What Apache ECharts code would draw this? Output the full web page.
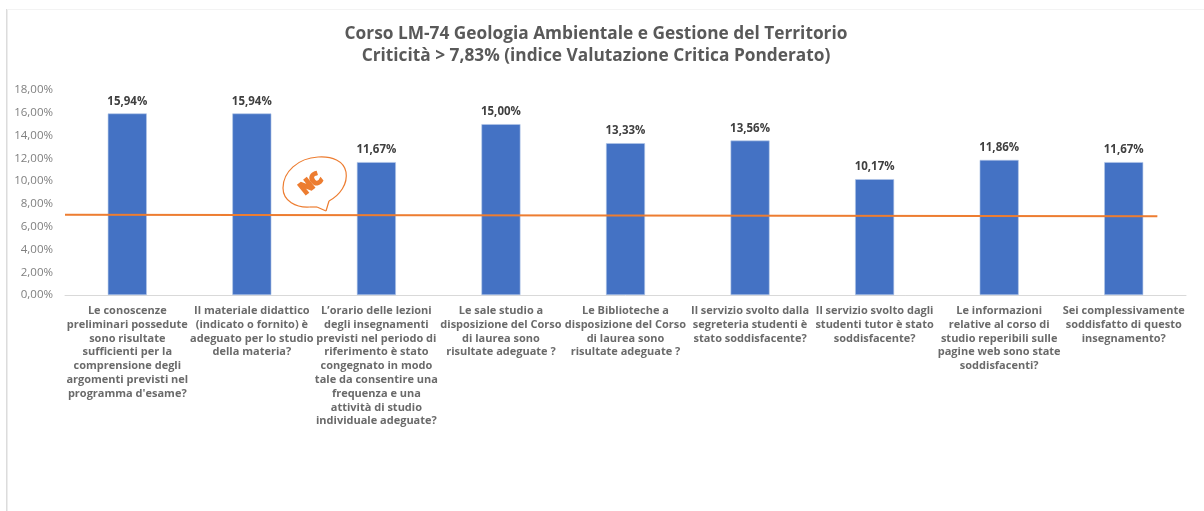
<!DOCTYPE html>
<html>
<head>
<meta charset="utf-8">
<style>html,body{margin:0;padding:0;background:#fff}#c{width:1204px;height:511px}</style>
<script src="https://cdn.jsdelivr.net/npm/echarts@6/dist/echarts.min.js"></script>
</head>
<body>
<div id="c"></div>
<script>
const categories = [
"Le conoscenze\npreliminari possedute\nsono risultate\nsufficienti per la\ncomprensione degli\nargomenti previsti nel\nprogramma d'esame?",
"Il materiale didattico\n(indicato o fornito) è\nadeguato per lo studio\ndella materia?",
"L’orario delle lezioni\ndegli insegnamenti\nprevisti nel periodo di\nriferimento è stato\ncongegnato in modo\ntale da consentire una\nfrequenza e una\nattività di studio\nindividuale adeguate?",
"Le sale studio a\ndisposizione del Corso\ndi laurea sono\nrisultate adeguate ?",
"Le Biblioteche a\ndisposizione del Corso\ndi laurea sono\nrisultate adeguate ?",
"Il servizio svolto dalla\nsegreteria studenti è\nstato soddisfacente?",
"Il servizio svolto dagli\nstudenti tutor è stato\nsoddisfacente?",
"Le informazioni\nrelative al corso di\nstudio reperibili sulle\npagine web sono state\nsoddisfacenti?",
"Sei complessivamente\nsoddisfatto di questo\ninsegnamento?"
];
const values = [15.94, 15.94, 11.67, 15.00, 13.33, 13.56, 10.17, 11.86, 11.67];
const trendLine = [[0, 7.04], [8.77, 6.92]];
const titleLines = "Corso LM-74 Geologia Ambientale e Gestione del Territorio\nCriticità > 7,83% (indice Valutazione Critica Ponderato)";
const pct = v => v.toFixed(2).replace('.', ',') + '%';
const font = '"Open Sans","Noto Sans",sans-serif';

const bubbleStroke = {fill: 'none', stroke: '#ed7d31', lineWidth: 1.2};
const curve = (x1, y1, cpx1, cpy1, cpx2, cpy2, x2, y2) => ({
  type: 'bezierCurve', z: 5, silent: true, style: bubbleStroke,
  shape: {x1, y1, cpx1, cpy1, cpx2, cpy2, x2, y2}
});
const seg = (x1, y1, x2, y2) => ({
  type: 'line', z: 5, silent: true, style: bubbleStroke, shape: {x1, y1, x2, y2}
});

const chart = echarts.init(document.getElementById('c'), null, {renderer: 'canvas'});
chart.setOption({
  animation: false,
  backgroundColor: '#fff',
  title: {
    text: titleLines, left: 591, top: 18, textAlign: 'center',
    textStyle: {fontFamily: font, fontSize: 17.3, fontWeight: 'bold', color: '#595959', lineHeight: 22}
  },
  grid: {left: 65, right: 18, top: 90, bottom: 216, containLabel: false},
  xAxis: [
    {
      type: 'category', data: categories,
      axisTick: {show: false},
      axisLine: {lineStyle: {color: '#d9d9d9', width: 1}},
      axisLabel: {interval: 0, margin: 9, fontFamily: font, fontSize: 11, fontWeight: 'bold', color: '#6a6a6a', lineHeight: 13.8, align: 'center'}
    },
    {type: 'value', min: 0, max: 9, show: false, position: 'bottom'}
  ],
  yAxis: {
    type: 'value', min: 0, max: 18, interval: 2,
    splitLine: {show: false}, axisLine: {show: false}, axisTick: {show: false},
    axisLabel: {formatter: pct, margin: 12, fontFamily: font, fontSize: 11.5, color: '#7f7f7f', padding: [2, 0, 0, 0]}
  },
  series: [
    {
      type: 'bar', data: values, barWidth: 39, xAxisIndex: 0,
      itemStyle: {color: '#4472c4', borderColor: '#b4c7e7', borderWidth: 0.6},
      label: {show: true, position: 'top', distance: 6, formatter: p => pct(p.value), fontFamily: font, fontSize: 11.5, fontWeight: 'bold', color: '#404040'},
      z: 2
    },
    {
      type: 'line', data: trendLine, xAxisIndex: 1, symbol: 'none',
      lineStyle: {color: '#ed7d31', width: 2}, z: 3
    }
  ],
  graphic: [
    {type: 'rect', shape: {x: 6, y: 9, width: 1.5, height: 502}, style: {fill: '#dcdcdc'}, silent: true},
    {type: 'rect', shape: {x: 7, y: 9, width: 1197, height: 1}, style: {fill: '#f3f3f3'}, silent: true},
    seg(326, 211, 329, 201),
    curve(329, 201, 340, 195, 348, 184, 346, 172),
    curve(346, 172, 344, 161, 332, 156, 318, 157),
    curve(318, 157, 298, 158, 283, 172, 283, 188),
    curve(283, 188, 283, 201, 296, 208, 310, 207),
    seg(310, 207, 317, 207),
    seg(317, 207, 326, 211),
    {type: 'text', x: 311, y: 184, rotation: 0.68, z: 6,
     style: {text: 'NC', x: 0, y: 0, align: 'center', verticalAlign: 'middle', fill: '#ed7d31', stroke: '#ed7d31', lineWidth: 2.5, font: 'bold 16px "Noto Sans",sans-serif'}}
  ]
});
</script>
</body>
</html>
